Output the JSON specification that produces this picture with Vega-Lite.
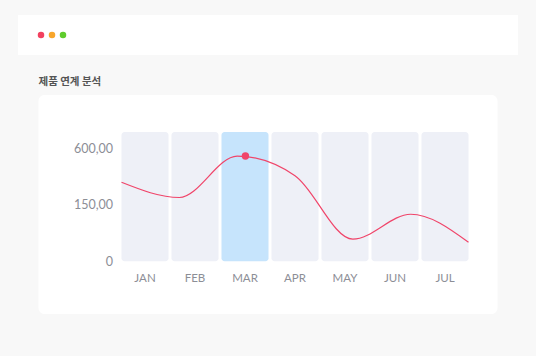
{
  "$schema": "https://vega.github.io/schema/vega-lite/v6.json",
  "background": "#f8f8f8",
  "padding": {"left": 18, "top": 15, "right": 18, "bottom": 42},
  "spacing": 21,
  "center": true,
  "config": {"view": {"stroke": null}},
  "datasets": {
    "dots": [
      {"dot": "close"},
      {"dot": "minimize"},
      {"dot": "maximize"}
    ],
    "sales": [
      {"month": "JAN", "value": 293},
      {"month": "FEB", "value": 191},
      {"month": "MAR", "value": 520},
      {"month": "APR", "value": 344},
      {"month": "MAY", "value": 23},
      {"month": "JUN", "value": 104},
      {"month": "JUL", "value": 17}
    ]
  },
  "vconcat": [
    {
      "width": 500,
      "height": 40,
      "view": {"fill": "#ffffff", "stroke": null},
      "data": {"name": "dots"},
      "mark": {"type": "circle", "size": 42, "opacity": 1},
      "encoding": {
        "x": {"field": "dot", "type": "nominal", "sort": null,
              "scale": {"type": "point", "range": [23, 45], "padding": 0}, "axis": null},
        "color": {"field": "dot", "type": "nominal", "legend": null,
                  "scale": {"domain": ["close", "minimize", "maximize"], "range": ["#f2415f", "#f8a62b", "#5fcc2d"]}}
      }
    },
    {
      "width": 459,
      "height": 219,
      "view": {"fill": "#ffffff", "stroke": null, "cornerRadius": 6},
      "title": {
        "text": "제품 연계 분석",
        "anchor": "start",
        "frame": "group",
        "font": "Noto Sans CJK KR",
        "fontSize": 10.5,
        "fontWeight": "bold",
        "color": "#555555",
        "offset": 8
      },
      "data": {"name": "sales"},
      "resolve": {"scale": {"x": "independent"}},
      "layer": [
        {
          "mark": {"type": "bar", "cornerRadius": 3},
          "encoding": {
            "x": {"field": "month", "type": "ordinal", "sort": null,
                  "scale": {"domain": ["JAN", "FEB", "MAR", "APR", "MAY", "JUN", "JUL"], "range": [83, 430], "paddingInner": 0.06, "paddingOuter": 0},
                  "axis": {"title": null, "orient": "bottom", "offset": -52.7, "domain": false, "ticks": false, "tickSize": 0,
                           "labelAngle": 0, "labelPadding": 11, "labelFont": "Lato", "labelFontSize": 11.5, "labelColor": "#8c8e96"}},
            "y": {"datum": 785, "type": "quantitative"},
            "y2": {"datum": 0},
            "color": {"condition": {"test": "datum.month === 'MAR'", "value": "#c6e4fc"}, "value": "#eef0f7"}
          }
        },
        {
          "mark": {"type": "line", "interpolate": "monotone", "color": "#f0456a", "strokeWidth": 1.2},
          "encoding": {
            "x": {"field": "month", "type": "ordinal", "sort": null,
                  "scale": {"type": "point", "domain": ["JAN", "FEB", "MAR", "APR", "MAY", "JUN", "JUL"], "range": [83, 430], "padding": 0},
                  "axis": null},
            "y": {"field": "value", "type": "quantitative",
                  "scale": {"type": "sqrt", "domain": [0, 785], "range": [166.3, 37], "nice": false, "zero": true},
                  "axis": {"title": null, "orient": "left", "offset": -83, "values": [0, 150, 600],
                           "labelExpr": "datum.value === 0 ? '0' : replace(format(datum.value, '.2f'), '.', ',')",
                           "domain": false, "ticks": false, "tickSize": 0, "grid": false, "labelPadding": 9,
                           "labelFont": "Lato", "labelFontSize": 12.5, "labelColor": "#8c8e96"}}
          }
        },
        {
          "transform": [{"filter": "datum.month === 'MAR'"}],
          "mark": {"type": "circle", "size": 55, "color": "#f0456a", "opacity": 1},
          "encoding": {
            "x": {"field": "month", "type": "ordinal", "sort": null,
                  "scale": {"domain": ["JAN", "FEB", "MAR", "APR", "MAY", "JUN", "JUL"], "range": [83, 430], "paddingInner": 0.06, "paddingOuter": 0},
                  "axis": null},
            "y": {"field": "value", "type": "quantitative"}
          }
        }
      ]
    }
  ]
}
